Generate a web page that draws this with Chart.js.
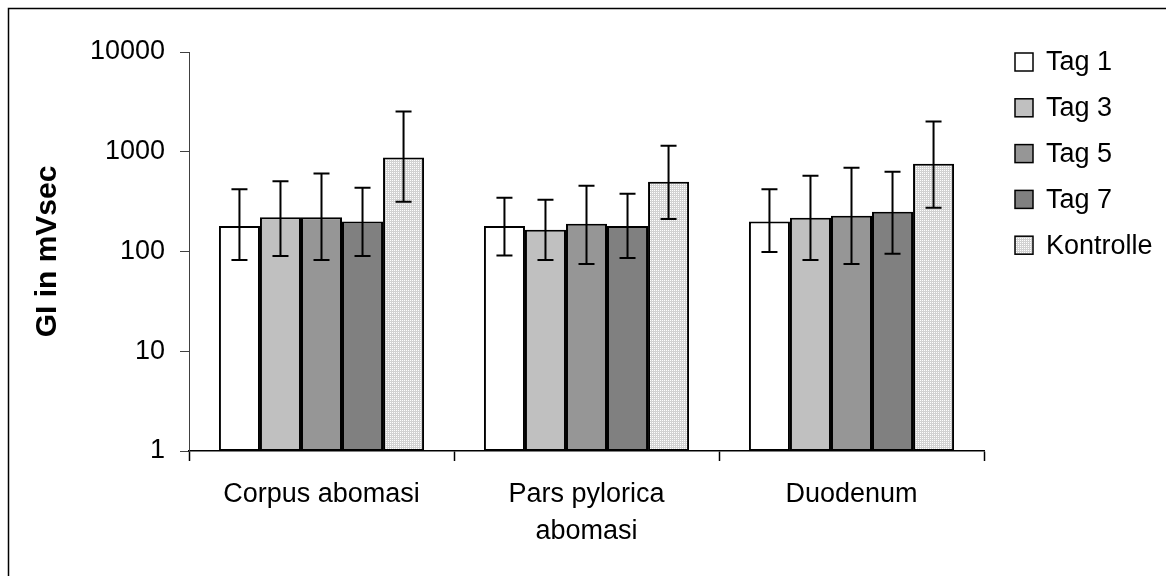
<!DOCTYPE html>
<html>
<head>
<meta charset="utf-8">
<title>GI in mVsec</title>
<script src="https://cdn.jsdelivr.net/npm/chart.js@4/dist/chart.umd.min.js"></script>
<style>
    html, body { margin: 0; padding: 0; background: #fff; }
    #chartDiv { width: 1166px; height: 576px; }
</style>
</head>
<body>
<div id="chartDiv"><canvas id="giChart"></canvas></div>
<script>

// sections of the gut
const categories = [['Corpus abomasi'], ['Pars pylorica', 'abomasi'], ['Duodenum']];
const seriesNames = ['Tag 1', 'Tag 3', 'Tag 5', 'Tag 7', 'Kontrolle'];

// mean GI values per day (mVsec)
const tag1 = [180, 180, 200];
const tag3 = [220, 165, 218];
const tag5 = [220, 190, 228];
const tag7 = [200, 180, 250];
const kontrolle = [875, 500, 760];

// error bar ends (lower / upper)
const tag1Low = [82, 91, 99], tag1High = [420, 345, 420];
const tag3Low = [90, 82, 82], tag3High = [505, 330, 575];
const tag5Low = [82, 75, 75], tag5High = [605, 455, 690];
const tag7Low = [90, 86, 95], tag7High = [435, 380, 630];
const kontrolleLow = [315, 212, 275], kontrolleHigh = [2530, 1150, 2010];

const yTicks = [1, 10, 100, 1000, 10000];

const fontName = '"Liberation Sans", Arial, sans-serif';

/* dotted light grey fill used for the control bars */
function makeDotPattern() {
    let c = document.createElement('canvas');
    c.width = 2;
    c.height = 2;
    let g = c.getContext('2d');
    g.fillStyle = '#d2d2d2';
    g.fillRect(0, 0, 2, 2);
    g.fillStyle = '#ffffff';
    g.fillRect(0, 0, 1, 1);
    return g.createPattern(c, 'repeat');
}

const dotFill = makeDotPattern();

function makeSet(i, values, low, high, fill) {
    return {
        label: seriesNames[i],
        data: values,
        errLow: low,
        errHigh: high,
        backgroundColor: fill,
        borderColor: '#000000',
        borderWidth: 2,
        borderSkipped: false,
        categoryPercentage: 0.774,
        barPercentage: 1.0
    };
}

// draws the whiskers on top of each bar
const errorBars = {
    id: 'errorBars',
    afterDatasetsDraw(chart) {
        let ctx = chart.ctx;
        let yScale = chart.scales.y;
        ctx.save();
        ctx.strokeStyle = '#000000';
        ctx.lineWidth = 2;
        chart.data.datasets.forEach((ds, d) => {
            let meta = chart.getDatasetMeta(d);
            meta.data.forEach((bar, i) => {
                let x = bar.x;
                let yTop = yScale.getPixelForValue(ds.errHigh[i]);
                let yBot = yScale.getPixelForValue(ds.errLow[i]);
                ctx.beginPath();
                ctx.moveTo(x, yTop);
                ctx.lineTo(x, yBot);
                ctx.moveTo(x - 8, yTop);
                ctx.lineTo(x + 8, yTop);
                ctx.moveTo(x - 8, yBot);
                ctx.lineTo(x + 8, yBot);
                ctx.stroke();
            });
        });
        ctx.restore();
    }
};

// white page with the thin frame line
const pageFrame = {
    id: 'pageFrame',
    beforeDraw(chart) {
        let ctx = chart.ctx;
        ctx.save();
        ctx.fillStyle = '#ffffff';
        ctx.fillRect(0, 0, chart.width, chart.height);
        ctx.strokeStyle = '#000000';
        ctx.lineWidth = 1.5;
        ctx.strokeRect(8.5, 8.5, chart.width + 20, chart.height + 20);
        ctx.restore();
    }
};

// legend column on the right side
const sideLegend = {
    id: 'sideLegend',
    afterDraw(chart) {
        let ctx = chart.ctx;
        let boxX = 1015, textX = 1046, firstY = 62, step = 45.8, box = 18;
        ctx.save();
        ctx.font = '27px ' + fontName;
        ctx.textBaseline = 'middle';
        ctx.textAlign = 'left';
        chart.data.datasets.forEach((ds, i) => {
            let cy = firstY + i * step;
            ctx.fillStyle = ds.backgroundColor;
            ctx.fillRect(boxX, cy - box / 2, box, box);
            ctx.strokeStyle = '#000000';
            ctx.lineWidth = 1.5;
            ctx.strokeRect(boxX, cy - box / 2, box, box);
            ctx.fillStyle = '#000000';
            ctx.fillText(ds.label, textX, cy + 1);
        });
        ctx.restore();
    }
};

var giChart = new Chart(document.getElementById('giChart'), {
    type: 'bar',
    data: {
        labels: categories,
        datasets: [
            makeSet(0, tag1, tag1Low, tag1High, '#ffffff'),
            makeSet(1, tag3, tag3Low, tag3High, '#c0c0c0'),
            makeSet(2, tag5, tag5Low, tag5High, '#969696'),
            makeSet(3, tag7, tag7Low, tag7High, '#808080'),
            makeSet(4, kontrolle, kontrolleLow, kontrolleHigh, dotFill)
        ]
    },
    options: {
        responsive: true,
        maintainAspectRatio: false,
        animation: false,
        layout: {
            padding: { top: 52, right: 182, bottom: 0, left: 0 }
        },
        plugins: {
            legend: { display: false },
            tooltip: { enabled: false }
        },
        scales: {
            x: {
                grid: {
                    offset: true,
                    drawOnChartArea: false,
                    drawTicks: true,
                    tickLength: 10,
                    tickColor: '#000000',
                    tickWidth: 1.5
                },
                border: { color: '#000000', width: 1.5 },
                ticks: {
                    color: '#000000',
                    padding: 15,
                    maxRotation: 0,
                    font: { family: fontName, size: 27, lineHeight: 1.37 }
                },
                afterFit: function (axis) {
                    axis.height = 125;
                }
            },
            y: {
                type: 'logarithmic',
                min: 1,
                max: 10000,
                afterBuildTicks: function (axis) {
                    axis.ticks = yTicks.map(v => ({ value: v }));
                },
                grid: {
                    drawOnChartArea: false,
                    drawTicks: true,
                    tickLength: 9,
                    tickColor: '#404040'
                },
                border: { color: '#404040', width: 1 },
                ticks: {
                    color: '#000000',
                    padding: 15,
                    font: { family: fontName, size: 27 },
                    callback: function (value) {
                        return String(value);
                    }
                },
                title: {
                    display: true,
                    text: 'GI in mVsec',
                    color: '#000000',
                    padding: { top: 30, bottom: 0 },
                    font: { family: fontName, size: 30, weight: 'bold' }
                },
                afterFit: function (axis) {
                    axis.width = 189;
                }
            }
        }
    },
    plugins: [pageFrame, errorBars, sideLegend]
});
</script>
</body>
</html>
